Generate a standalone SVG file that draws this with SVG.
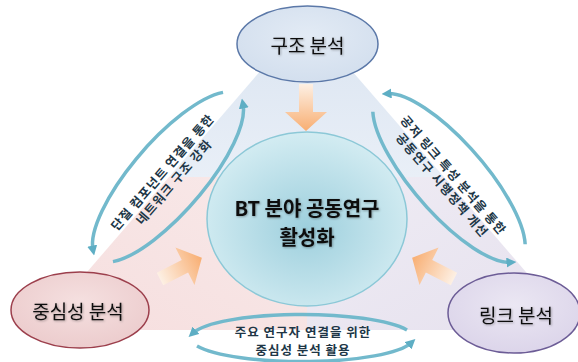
<svg xmlns="http://www.w3.org/2000/svg" width="578" height="362" viewBox="0 0 578 362">
<defs>
<style>
.lbl{font-family:"Noto Sans CJK KR","Noto Sans",sans-serif;text-anchor:middle;dominant-baseline:central}
.node{font-size:19px;fill:#111}
.center{font-size:20px;font-weight:bold;fill:#111}
.note{font-size:12.5px;font-weight:bold;fill:#203646;letter-spacing:1px}
.arc{fill:none;stroke:#72b9cc;stroke-width:3.5;marker-end:url(#head)}
</style>
<marker id="head" viewBox="0 0 10 10" refX="4" refY="5" markerWidth="10" markerHeight="10" markerUnits="userSpaceOnUse" orient="auto">
<path d="M0,0 L10,5 L0,10 Z" fill="#5eaec4"/>
</marker>
<linearGradient id="gBlue" x1="0" y1="0" x2="0" y2="1">
<stop offset="0" stop-color="#dae4f1"/><stop offset="1" stop-color="#e9eff7"/>
</linearGradient>
<linearGradient id="gPink" x1="0" y1="1" x2="1" y2="0">
<stop offset="0" stop-color="#f6dede"/><stop offset="1" stop-color="#f8e9e9"/>
</linearGradient>
<linearGradient id="gLav" x1="1" y1="1" x2="0" y2="0">
<stop offset="0" stop-color="#e6e1ee"/><stop offset="1" stop-color="#efecf4"/>
</linearGradient>
<linearGradient id="gOrange" x1="0" y1="0" x2="1" y2="0">
<stop offset="0" stop-color="#fdf0e4"/><stop offset="1" stop-color="#f8ae72"/>
</linearGradient>
<radialGradient id="gCenter" cx="0.5" cy="0.55" r="0.55">
<stop offset="0" stop-color="#9dcfdd"/><stop offset="1" stop-color="#d3ecf2"/>
</radialGradient>
<radialGradient id="gTop" cx="0.5" cy="0.4" r="0.6">
<stop offset="0" stop-color="#e3ebf5"/><stop offset="1" stop-color="#d3dfee"/>
</radialGradient>
<radialGradient id="gLeft" cx="0.5" cy="0.4" r="0.6">
<stop offset="0" stop-color="#f5e0e0"/><stop offset="1" stop-color="#eccccd"/>
</radialGradient>
<radialGradient id="gRight" cx="0.5" cy="0.4" r="0.6">
<stop offset="0" stop-color="#ebe7f3"/><stop offset="1" stop-color="#dcd5ea"/>
</radialGradient>
<filter id="ts" x="-10%" y="-30%" width="120%" height="160%">
<feDropShadow dx="0.8" dy="0.8" stdDeviation="0.8" flood-color="#000" flood-opacity="0.35"/>
</filter>
<path id="blockArrow" d="M0,-7 L28,-7 L28,-21 L47,0 L28,21 L28,7 L0,7 Z"/>
</defs>

<g id="background">
<polygon points="306,18 444,177 169,177" fill="url(#gBlue)"/>
<polygon points="169,177 307,177 307,330 37,330" fill="url(#gPink)"/>
<polygon points="307,177 444,177 576,330 307,330" fill="url(#gLav)"/>
</g>

<g id="connectors">
<g id="arrow-top" transform="translate(306,84) rotate(90)"><use href="#blockArrow" fill="url(#gOrange)"/></g>
<g id="arrow-left" transform="translate(160,279) rotate(-27)"><use href="#blockArrow" fill="url(#gOrange)"/></g>
<g id="arrow-right" transform="translate(454,279) rotate(-153)"><use href="#blockArrow" fill="url(#gOrange)"/></g>

<g id="cycle-left" transform="translate(168,177) rotate(-49)">
<path class="arc" d="M100,-14 A108 36 0 0 0 -104,-9"/>
<path class="arc" d="M-100,14 A108 36 0 0 0 104,9"/>
</g>
<g id="cycle-right" transform="translate(449,178) rotate(49)">
<path class="arc" d="M100,-14 A108 36 0 0 0 -104,-9"/>
<path class="arc" d="M-100,14 A108 36 0 0 0 104,9"/>
</g>
<g id="cycle-bottom" transform="translate(302,338)">
<path class="arc" d="M105,-8 A112 24 0 0 0 -109,-5"/>
<path class="arc" d="M-105,8 A112 24 0 0 0 109,5"/>
</g>

<g id="label-left" transform="translate(167.5,176.5) rotate(-49)">
<text class="lbl note" x="0" y="-7.5">단절 컴포넌트 연결을 통한</text>
<text class="lbl note" x="0" y="7.5">네트워크 구조 강화</text>
</g>
<g id="label-right" transform="translate(448.5,179.5) rotate(49)">
<text class="lbl note" x="0" y="-7.5">공저 링크 특성 분석을 통한</text>
<text class="lbl note" x="0" y="7.5">공동연구 시행정책 개선</text>
</g>
<g id="label-bottom">
<text class="lbl note" x="303" y="331">주요 연구자 연결을 위한</text>
<text class="lbl note" x="303" y="349">중심성 분석 활용</text>
</g>
</g>

<g id="node-center">
<ellipse cx="307" cy="219" rx="100" ry="87" fill="url(#gCenter)" stroke="#8cc8d7" stroke-width="1.5"/>
<text class="lbl center" x="307" y="207.5" filter="url(#ts)">BT 분야 공동연구</text>
<text class="lbl center" x="307" y="236.5" filter="url(#ts)">활성화</text>
</g>

<g id="node-structure">
<ellipse cx="307.5" cy="44" rx="70.5" ry="38" fill="url(#gTop)" stroke="#5b78a8" stroke-width="1.5"/>
<text class="lbl node" x="307.5" y="44" filter="url(#ts)">구조 분석</text>
</g>

<g id="node-centrality">
<ellipse cx="80" cy="310" rx="69" ry="38" fill="url(#gLeft)" stroke="#9c3f4c" stroke-width="1.5"/>
<text class="lbl node" x="78" y="310" filter="url(#ts)">중심성 분석</text>
</g>

<g id="node-link">
<ellipse cx="514" cy="313" rx="66" ry="40" fill="url(#gRight)" stroke="#6c5c96" stroke-width="1.5"/>
<text class="lbl node" x="516" y="314" filter="url(#ts)">링크 분석</text>
</g>
</svg>
